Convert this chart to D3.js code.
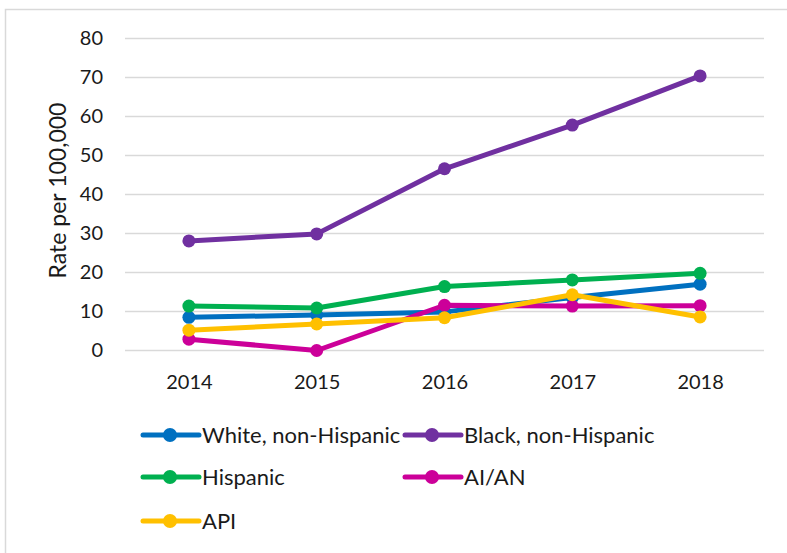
<!DOCTYPE html>
<html>
<head>
<meta charset="utf-8">
<script src="https://cdn.jsdelivr.net/npm/d3@7"></script>
<style>
  body { margin: 0; background: #fff; }
  text { font-family: Lato, "Open Sans", sans-serif; fill: #1a1a1a; }
</style>
</head>
<body>
<div class="chart"></div>
<script>
// Rate per 100,000 by race/ethnicity, 2014-2018

var years = ["2014", "2015", "2016", "2017", "2018"];
var seriesNames = ["White, non-Hispanic", "Black, non-Hispanic", "Hispanic", "AI/AN", "API"];
var seriesColors = ["#0070C0", "#7030A0", "#00B050", "#CC0099", "#FFC000"];
var whiteRates = [8.5, 9.1, 9.9, 13.6, 17.0];
var blackRates = [28.1, 29.9, 46.6, 57.8, 70.4];
var hispanicRates = [11.4, 10.9, 16.4, 18.1, 19.8];
var aianRates = [2.9, 0, 11.6, 11.4, 11.5];
var apiRates = [5.2, 6.8, 8.4, 14.3, 8.6];
var yTicks = [0, 10, 20, 30, 40, 50, 60, 70, 80];

var svgWidth = 787;
var svgHeight = 553;

var margin = { top: 38.5, right: 23, bottom: 202.5, left: 125 };
var width = svgWidth - margin.left - margin.right;
var height = svgHeight - margin.top - margin.bottom;

var svg = d3.select(".chart")
  .append("svg")
  .attr("width", svgWidth)
  .attr("height", svgHeight);

// outer chart frame
svg.append("rect")
  .attr("x", 5.5)
  .attr("y", 9.5)
  .attr("width", 900)
  .attr("height", 700)
  .attr("fill", "none")
  .attr("stroke", "#d9d9d9")
  .attr("stroke-width", 1.5);

var chartGroup = svg.append("g")
  .attr("transform", `translate(${margin.left}, ${margin.top})`);

var xScale = d3.scalePoint()
  .domain(years)
  .range([0, width])
  .padding(0.5);

var yScale = d3.scaleLinear()
  .domain([0, 80])
  .range([height, 0]);

// gridlines
chartGroup.append("g")
  .selectAll("line")
  .data(yTicks)
  .enter()
  .append("line")
  .attr("x1", 0)
  .attr("x2", width)
  .attr("y1", d => yScale(d))
  .attr("y2", d => yScale(d))
  .attr("stroke", "#d9d9d9")
  .attr("stroke-width", 1.5);

// y axis
var leftAxis = d3.axisLeft(yScale).tickValues(yTicks).tickSize(0).tickPadding(22);
var yAxis = chartGroup.append("g").call(leftAxis);
yAxis.select(".domain").remove();
yAxis.selectAll("text")
  .style("font-size", "20px")
  .style("font-family", "Lato, sans-serif")
  .attr("fill", "#1a1a1a");

// x axis
var bottomAxis = d3.axisBottom(xScale).tickSize(0).tickPadding(24);
var xAxis = chartGroup.append("g")
  .attr("transform", `translate(0, ${height})`)
  .call(bottomAxis);
xAxis.select(".domain").remove();
xAxis.selectAll("text")
  .style("font-size", "20px")
  .style("font-family", "Lato, sans-serif")
  .attr("fill", "#1a1a1a");

// y axis label
chartGroup.append("text")
  .attr("transform", "rotate(-90)")
  .attr("x", -height / 2 + 4)
  .attr("y", 58 - margin.left)
  .attr("dy", "0.35em")
  .attr("text-anchor", "middle")
  .style("font-size", "23px")
  .text("Rate per 100,000");

var allRates = [whiteRates, blackRates, hispanicRates, aianRates, apiRates];
var series = seriesNames.map(function(name, i) {
  return { name: name, color: seriesColors[i], values: allRates[i] };
});

var line = d3.line()
  .x((d, i) => xScale(years[i]))
  .y(d => yScale(d));

var seriesGroups = chartGroup.selectAll(".series")
  .data(series)
  .enter()
  .append("g")
  .attr("class", "series");

seriesGroups.append("path")
  .attr("d", d => line(d.values))
  .attr("fill", "none")
  .attr("stroke", d => d.color)
  .attr("stroke-width", 5)
  .attr("stroke-linejoin", "round");

seriesGroups.selectAll("circle")
  .data(d => d.values.map(v => ({ v: v, color: d.color })))
  .enter()
  .append("circle")
  .attr("cx", (d, i) => xScale(years[i]))
  .attr("cy", d => yScale(d.v))
  .attr("r", 6.5)
  .attr("fill", d => d.color);

// legend
var legendPos = [[143, 435], [405, 435], [143, 477], [405, 477], [143, 521]];
var legend = svg.selectAll(".legend")
  .data(series)
  .enter()
  .append("g")
  .attr("class", "legend")
  .attr("transform", (d, i) => `translate(${legendPos[i][0]}, ${legendPos[i][1]})`);

legend.append("line")
  .attr("x1", 0)
  .attr("x2", 56)
  .attr("stroke", d => d.color)
  .attr("stroke-width", 5)
  .attr("stroke-linecap", "round");

legend.append("circle")
  .attr("cx", 27)
  .attr("r", 7)
  .attr("fill", d => d.color);

legend.append("text")
  .attr("x", 59)
  .attr("dy", "0.36em")
  .style("font-size", "22px")
  .text(d => d.name);
</script>
</body>
</html>
